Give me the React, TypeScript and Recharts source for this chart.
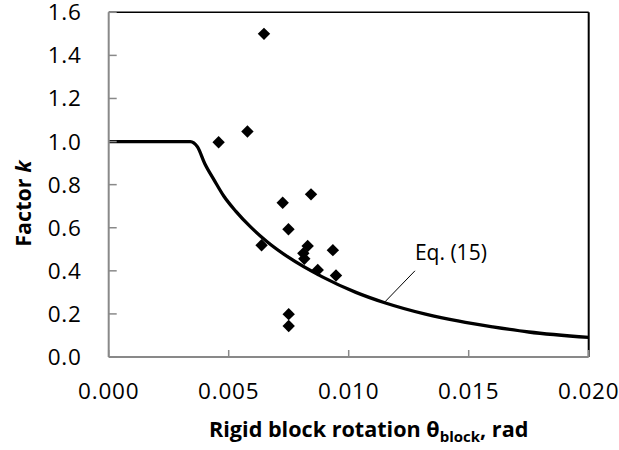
import React from 'react';
import {
  ComposedChart,
  Line,
  Scatter,
  XAxis,
  YAxis,
  ReferenceLine,
  ReferenceDot,
} from 'recharts';

// Measured rigid block rotations (rad) and factor k
const thetaObs = [0.00458, 0.00578, 0.00647, 0.00637, 0.00725, 0.00843, 0.00749, 0.00829, 0.00811, 0.00815, 0.00934, 0.00871, 0.00947, 0.0075, 0.0075];
const kObs = [0.997, 1.047, 1.5, 0.519, 0.716, 0.755, 0.593, 0.515, 0.481, 0.456, 0.496, 0.404, 0.378, 0.199, 0.144];

// Eq. (15) curve
const curveTheta = [0, 0.0034, 0.0037, 0.004, 0.0044, 0.0048, 0.0053, 0.0059, 0.0066, 0.0075, 0.0089, 0.0103, 0.0115, 0.0132, 0.0146, 0.016, 0.0175, 0.02];
const curveK = [1.0, 1.0, 0.975, 0.898, 0.82, 0.746, 0.676, 0.605, 0.535, 0.462, 0.372, 0.3, 0.252, 0.199, 0.166, 0.14, 0.116, 0.091];

const xTicks = [0, 0.005, 0.01, 0.015, 0.02];
const yTicks = [0, 0.2, 0.4, 0.6, 0.8, 1.0, 1.2, 1.4, 1.6];

// Leader line of the annotation
const leaderTheta = [0.01151, 0.01276];
const leaderK = [0.256, 0.4];
const annotationText = 'Eq. (15)';

const obsData = thetaObs.map((t, i) => ({ theta: t, k: kObs[i] }));
const curveData = curveTheta.map((t, i) => ({ theta: t, k: curveK[i] }));

const FONT = '"Open Sans", "Noto Sans", sans-serif';
const AXIS_GRAY = '#898989';
const TICK_FS = 22.5;

const Diamond = (props: any) => {
  const { cx, cy } = props;
  if (cx == null || cy == null) return null;
  const r = 6.2;
  return (
    <polygon
      points={`${cx},${cy - r} ${cx + r},${cy} ${cx},${cy + r} ${cx - r},${cy}`}
      fill="#000"
    />
  );
};

const XTick = (props: any) => {
  const { x, y, payload } = props;
  return (
    <text
      x={x}
      y={y}
      dy="0.71em"
      textAnchor="middle"
      fontFamily={FONT}
      fontSize={TICK_FS}
      letterSpacing={0.8}
      fill="#000"
    >
      {Number(payload.value).toFixed(3)}
    </text>
  );
};

const YTick = (props: any) => {
  const { x, y, payload } = props;
  return (
    <text
      x={x}
      y={y}
      dy="0.355em"
      textAnchor="end"
      fontFamily={FONT}
      fontSize={TICK_FS}
      letterSpacing={0.8}
      fill="#000"
    >
      {Number(payload.value).toFixed(1)}
    </text>
  );
};

const XTitle = (props: any) => {
  const vb = props.viewBox || { x: 108.7, y: 357, width: 480, height: 93 };
  const cx = vb.x + vb.width / 2 + 20;
  const by = vb.y + 80;
  return (
    <text x={cx} y={by} textAnchor="middle" fontFamily={FONT} fontWeight="bold" fontSize={21.6} fill="#000">
      Rigid block rotation θ
      <tspan fontSize={15} dy={5}>block</tspan>
      <tspan dy={-5}>, rad</tspan>
    </text>
  );
};

const YTitle = (props: any) => {
  const vb = props.viewBox || { x: 8.7, y: 12.3, width: 100, height: 344.7 };
  const cx = vb.x + 13.5;
  const cy = vb.y + vb.height / 2 + 19;
  return (
    <text
      x={cx}
      y={cy}
      transform={`rotate(-90, ${cx}, ${cy})`}
      textAnchor="middle"
      dominantBaseline="central"
      fontFamily={FONT}
      fontWeight="bold"
      fontSize={21.5}
      fill="#000"
    >
      Factor <tspan fontStyle="italic">k</tspan>
    </text>
  );
};

const EqLabel = (props: any) => {
  const vb = props.viewBox || { x: 0, y: 0, width: 0, height: 0 };
  const x = vb.x + (vb.width || 0) / 2;
  const y = vb.y + (vb.height || 0) / 2;
  return (
    <text x={x} y={y - 11} textAnchor="start" fontFamily={FONT} fontSize={21} fill="#000">
      {annotationText}
    </text>
  );
};

export default function App() {
  return (
    <div style={{ position: 'absolute', left: 0, top: 0, background: '#fff' }}>
      <ComposedChart
        width={619}
        height={450}
        margin={{ top: 12.3, right: 30.3, bottom: 0, left: 8.7 }}
      >
        <XAxis
          type="number"
          dataKey="theta"
          domain={[0, 0.02]}
          ticks={xTicks}
          height={93}
          tickSize={-7}
          tickMargin={33}
          axisLine={{ stroke: AXIS_GRAY, strokeWidth: 2 }}
          tickLine={{ stroke: AXIS_GRAY, strokeWidth: 1.5 }}
          tick={(p: any) => <XTick {...p} />}
          allowDataOverflow
          label={{ content: (p: any) => <XTitle {...p} /> }}
        />
        <YAxis
          type="number"
          dataKey="k"
          domain={[0, 1.6]}
          ticks={yTicks}
          width={100}
          tickSize={-8}
          tickMargin={35}
          axisLine={{ stroke: AXIS_GRAY, strokeWidth: 2 }}
          tickLine={{ stroke: AXIS_GRAY, strokeWidth: 1.5 }}
          tick={(p: any) => <YTick {...p} />}
          allowDataOverflow
          label={{ content: (p: any) => <YTitle {...p} /> }}
        />
        <ReferenceLine y={1.6} stroke="#000" strokeWidth={1.5} />
        <ReferenceLine x={0.02} stroke="#000" strokeWidth={2} />
        <ReferenceLine
          segment={[
            { x: leaderTheta[0], y: leaderK[0] },
            { x: leaderTheta[1], y: leaderK[1] },
          ]}
          stroke="#000"
          strokeWidth={1}
        />
        <ReferenceDot
          x={leaderTheta[1]}
          y={leaderK[1]}
          r={1}
          fill="none"
          stroke="none"
          label={{ content: (p: any) => <EqLabel {...p} /> }}
        />
        <Line
          data={curveData}
          dataKey="k"
          type="monotone"
          stroke="#000"
          strokeWidth={3.3}
          dot={false}
          activeDot={false}
          isAnimationActive={false}
        />
        <Scatter
          data={obsData}
          dataKey="k"
          fill="#000"
          shape={(p: any) => <Diamond {...p} />}
          isAnimationActive={false}
        />
      </ComposedChart>
    </div>
  );
}
